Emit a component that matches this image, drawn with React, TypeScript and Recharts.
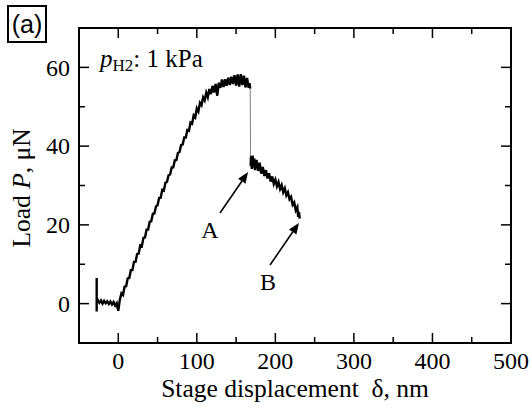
import { Line, LineChart, ReferenceDot, ReferenceLine, XAxis, YAxis } from "recharts";

// the page is photographed by the root box, so drop the body margin
if (typeof document !== "undefined") document.body.style.margin = "0";

// loading branch up to the load drop
const loadX = [
  -27.5, -27.5, -27.5, -26, -24, -22, -20, -18, -16, -14, -12, -10, -8, -6, -4, -2, -1, 0, 1,
  2, 4, 6, 8, 10, 12, 14, 16, 18, 20, 22, 24, 26, 28, 30, 32, 34, 36, 38, 40, 42, 44, 46, 48,
  50, 52, 54, 56, 58, 60, 62, 64, 66, 68, 70, 72, 74, 76, 78, 80, 82, 84, 86, 88, 90, 92, 94,
  96, 98, 100, 102, 104, 106, 108, 110, 112, 114, 116, 118, 120, 122, 124, 126, 128, 130, 132,
  134, 136, 138, 140, 142, 144, 146, 148, 150, 152, 154, 156, 158, 160, 162, 164, 166, 167, 168,
];
const loadY = [
  6.5, -2.0, 0.4, 0.9, 0.2, 0.8, 0.0, 0.7, 0.1, 0.6, -0.1, 0.5, -0.2, 0.4, -0.5, 0.1, -1.0, -1.8, -0.4,
  1.0, 2.6, 2.2, 4.3, 4.4, 6.4, 6.5, 8.5, 8.5, 10.6, 10.6, 12.6, 12.7, 14.8, 14.6, 16.7, 16.8, 18.8, 18.8, 20.8, 20.9, 22.8, 22.9, 24.7,
  25.0, 26.8, 26.9, 28.9, 28.7, 30.7, 30.9, 32.6, 32.8, 34.6, 34.6, 36.4, 36.5, 38.3, 38.5, 40.3, 40.4, 42.2, 42.2, 44.1, 43.9, 46.0, 45.7,
  47.8, 47.3, 49.6, 48.8, 51.0, 50.4, 52.4, 51.6, 53.6, 52.4, 54.5, 53.2, 55.3, 53.6, 55.8, 52.8, 56.1, 54.8, 56.9,
  55.0, 57.0, 55.3, 57.4, 55.5, 57.6, 55.8, 58.0, 55.4, 58.2, 55.1, 58.3, 55.5, 57.9, 54.9, 57.3, 54.8, 56.0, 54.6,
];

// sudden drop (A)
const dropX = [168, 168.5];
const dropY = [54.6, 35.0];

// after the drop, down to B
const afterX = [
  168.5, 169, 170, 171, 172, 173, 174, 176, 178, 180, 182, 184, 186, 188, 190, 192, 194, 196, 198,
  200, 202, 204, 206, 208, 210, 212, 214, 216, 218, 220, 222, 224, 226, 228, 229, 230, 231,
];
const afterY = [
  35.0, 37.4, 34.2, 37.6, 34.6, 36.9, 33.9, 36.5, 33.7, 35.8, 33.0, 34.7, 32.4, 33.9, 31.8, 33.1, 31.0, 32.3, 30.4,
  31.5, 29.8, 30.9, 29.1, 30.1, 28.3, 29.3, 27.5, 28.3, 26.5, 27.1, 25.1, 25.7, 23.7, 24.5, 22.0, 23.3, 21.6,
];

const X_MIN = -50;
const X_MAX = 500;
const Y_MIN = -10;
const Y_MAX = 70;
const xTicks = [0, 50, 100, 150, 200, 250, 300, 350, 400, 450, 500];
const yTicks = [0, 10, 20, 30, 40, 50, 60];

const toPoints = (xs: number[], ys: number[]) => xs.map((x, i) => ({ x, y: ys[i] }));
const loadData = toPoints(loadX, loadY);
const dropData = toPoints(dropX, dropY);
const afterData = toPoints(afterX, afterY);

const SERIF = '"Liberation Serif", "Times New Roman", serif';
const FS = 24;
const TITLE_FS = 25.5;

// chart box: plot area is 79..511 x 28..343
const W = 532;
const H = 409;
const M_TOP = 28;
const M_RIGHT = 21;
const Y_AXIS_W = 79;
const X_AXIS_H = 66;

const BottomTick = ({ x, y, payload }: any) => {
  const major = payload.value % 100 === 0;
  return (
    <g>
      <line x1={x} x2={x} y1={y} y2={y - (major ? 10 : 6)} stroke="#000" strokeWidth={1.5} />
      {major && (
        <text x={x} y={y + 26} textAnchor="middle" fontFamily={SERIF} fontSize={FS} fill="#000">
          {payload.value}
        </text>
      )}
    </g>
  );
};

const LeftTick = ({ x, y, payload }: any) => {
  const major = payload.value % 20 === 0;
  return (
    <g>
      <line x1={x} x2={x + (major ? 10 : 6)} y1={y} y2={y} stroke="#000" strokeWidth={1.5} />
      {major && (
        <text x={x - 9} y={y} dy="0.34em" textAnchor="end" fontFamily={SERIF} fontSize={FS} fill="#000">
          {payload.value}
        </text>
      )}
    </g>
  );
};

const makeTick = (dx: number, dy: number) => (props: any) => {
  const { x1, y1 } = props;
  if (typeof x1 !== "number" || typeof y1 !== "number") return null;
  return <line x1={x1} y1={y1} x2={x1 + dx} y2={y1 + dy} stroke="#000" strokeWidth={1.5} />;
};
const TopMajor = makeTick(0, 10);
const TopMinor = makeTick(0, 6);
const RightMajor = makeTick(-10, 0);
const RightMinor = makeTick(-6, 0);

const Arrow = (props: any) => {
  const { x1, y1, x2, y2 } = props;
  if ([x1, y1, x2, y2].some((v) => typeof v !== "number")) return null;
  const ang = Math.atan2(y2 - y1, x2 - x1);
  const len = 11;
  const w = 4.5;
  const bx = x2 - len * Math.cos(ang);
  const by = y2 - len * Math.sin(ang);
  const px = -Math.sin(ang) * w;
  const py = Math.cos(ang) * w;
  return (
    <g>
      <line x1={x1} y1={y1} x2={bx} y2={by} stroke="#000" strokeWidth={1.6} />
      <polygon points={`${x2},${y2} ${bx + px},${by + py} ${bx - px},${by - py}`} fill="#000" />
    </g>
  );
};

const axisLine = { stroke: "#000", strokeWidth: 2 };
const letter = { position: "center" as const, fill: "#000", fontSize: FS, fontFamily: SERIF };
// keep the frame tick anchors just inside the domain
const EPS = 0.01;

export default function App() {
  return (
    <div style={{ position: "relative", width: W, height: H, background: "#fff" }}>
      <LineChart width={W} height={H} margin={{ top: M_TOP, right: M_RIGHT, left: 0, bottom: 0 }}>
        <XAxis
          dataKey="x"
          type="number"
          domain={[X_MIN, X_MAX]}
          ticks={xTicks}
          interval={0}
          height={X_AXIS_H}
          tickSize={0}
          tickMargin={0}
          tickLine={false}
          axisLine={axisLine}
          tick={<BottomTick />}
          allowDataOverflow
        />
        <YAxis
          type="number"
          domain={[Y_MIN, Y_MAX]}
          ticks={yTicks}
          interval={0}
          width={Y_AXIS_W}
          tickSize={0}
          tickMargin={0}
          tickLine={false}
          axisLine={axisLine}
          tick={<LeftTick />}
          allowDataOverflow
        />

        {/* inward ticks on the top and right sides of the box */}
        {xTicks
          .filter((v) => v < X_MAX)
          .map((v) => (
            <ReferenceLine
              key={`t${v}`}
              segment={[{ x: v, y: Y_MAX - EPS }, { x: v, y: Y_MAX - 2 * EPS }]}
              shape={v % 100 === 0 ? <TopMajor /> : <TopMinor />}
            />
          ))}
        {yTicks.map((v) => (
          <ReferenceLine
            key={`r${v}`}
            segment={[{ x: X_MAX - EPS, y: v }, { x: X_MAX - 2 * EPS, y: v }]}
            shape={v % 20 === 0 ? <RightMajor /> : <RightMinor />}
          />
        ))}

        <Line data={loadData} dataKey="y" type="linear" stroke="#000" strokeWidth={2.4} dot={false} isAnimationActive={false} />
        <Line data={dropData} dataKey="y" type="linear" stroke="#808080" strokeWidth={1} dot={false} isAnimationActive={false} />
        <Line data={afterData} dataKey="y" type="linear" stroke="#000" strokeWidth={2.4} dot={false} isAnimationActive={false} />
        <ReferenceLine segment={[{ x: 129.5, y: 23.0 }, { x: 165.2, y: 33.4 }]} shape={<Arrow />} />
        <ReferenceLine segment={[{ x: 193.2, y: 9.8 }, { x: 230, y: 20.5 }]} shape={<Arrow />} />
        <ReferenceDot x={116.8} y={18.9} r={0} stroke="none" label={{ value: "A", ...letter }} />
        <ReferenceDot x={190.6} y={5.7} r={0} stroke="none" label={{ value: "B", ...letter }} />
      </LineChart>

      {/* full box around the plot area */}
      <div
        style={{
          position: "absolute",
          left: Y_AXIS_W - 1,
          top: M_TOP - 1,
          width: W - M_RIGHT - Y_AXIS_W + 2,
          height: H - X_AXIS_H - M_TOP + 2,
          border: "2px solid #000",
          boxSizing: "border-box",
          pointerEvents: "none",
        }}
      />

      <div
        style={{
          position: "absolute",
          left: 7,
          top: 5,
          width: 36,
          height: 34,
          border: "2px solid #000",
          fontFamily: '"Liberation Sans", Arial, sans-serif',
          fontSize: 25,
          lineHeight: "34px",
          textAlign: "center",
        }}
      >
        (a)
      </div>

      <div style={{ position: "absolute", left: 100, top: 46, fontFamily: SERIF, fontSize: 25, lineHeight: "25px", whiteSpace: "nowrap" }}>
        <i>p</i>
        <span style={{ fontSize: 17, position: "relative", top: 4 }}>H2</span>: 1 kPa
      </div>

      <div
        style={{
          position: "absolute",
          left: 295,
          top: 376,
          transform: "translateX(-50%)",
          fontFamily: SERIF,
          fontSize: TITLE_FS,
          lineHeight: "25px",
          whiteSpace: "pre",
        }}
      >
        Stage displacement  δ, nm
      </div>

      <div
        style={{
          position: "absolute",
          left: 21,
          top: 188,
          transform: "translate(-50%, -50%) rotate(-90deg)",
          fontFamily: SERIF,
          fontSize: TITLE_FS,
          lineHeight: "25px",
          whiteSpace: "pre",
        }}
      >
        Load <i>P</i>, μN
      </div>
    </div>
  );
}
